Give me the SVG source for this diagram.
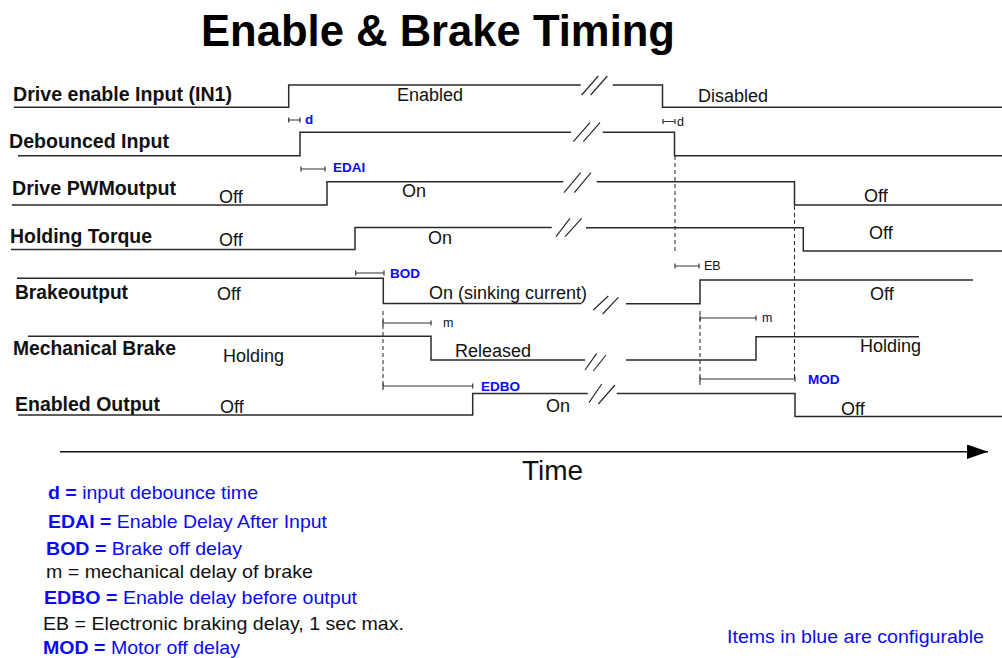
<svg xmlns="http://www.w3.org/2000/svg" width="1002" height="658" viewBox="0 0 1002 658">
<style>
.sig{fill:none;stroke:#2a2a2a;stroke-width:1.5;stroke-linejoin:miter}
.brk{fill:none;stroke:#2a2a2a;stroke-width:1.2}
.dim{fill:none;stroke:#333;stroke-width:1.2}
.dash{fill:none;stroke:#333;stroke-width:1.1;stroke-dasharray:4 3}
.lbl{font-family:"Liberation Sans",Arial,sans-serif;font-weight:bold;font-size:20.5px;fill:#111}
.st{font-family:"Liberation Sans",Arial,sans-serif;font-size:18px;fill:#111}
.cfg{font-family:"Liberation Sans",Arial,sans-serif;font-weight:bold;font-size:13.5px;fill:#0a0af5}
.sm{font-family:"Liberation Sans",Arial,sans-serif;font-size:12.5px;fill:#111}
.leg{font-family:"Liberation Sans",Arial,sans-serif;font-size:18.5px;fill:#0a0af5}
.legk{font-family:"Liberation Sans",Arial,sans-serif;font-size:18.5px;fill:#111}
.b{font-weight:bold}
</style>
<defs>
<marker id="arr" markerWidth="22" markerHeight="16" refX="21" refY="7.2" orient="auto" markerUnits="userSpaceOnUse">
<path d="M0,0 L21,7.2 L0,14.4 Z" fill="#000"/>
</marker>
</defs>
<rect width="1002" height="658" fill="#fff"/>
<text x="201" y="46" font-family="Liberation Sans,Arial,sans-serif" font-weight="bold" font-size="45" fill="#000" textLength="474" lengthAdjust="spacingAndGlyphs">Enable &amp; Brake Timing</text>

<g id="drive-enable-input">
<text class="lbl" x="13" y="101" textLength="219" lengthAdjust="spacingAndGlyphs">Drive enable Input (IN1)</text>
<path class="sig" d="M14,107.3 H288.7 V85 H580.7 M612.7,85 H662.5 V107.3 H1002"/>
<path class="brk" d="M581.7,95 L598.3,76 M590.7,95 L607.3,76"/>
<text class="st" x="397" y="101" font-size="16.5">Enabled</text>
<text class="st" x="698" y="102" font-size="16.5">Disabled</text>
</g>

<g id="debounced-input">
<text class="lbl" x="9" y="148" textLength="160" lengthAdjust="spacingAndGlyphs">Debounced Input</text>
<path class="sig" d="M18,155.7 H300 V132.3 H571 M602.7,132.3 H674.5 V155.7 H1002"/>
<path class="brk" d="M573.3,141.7 L590,122.7 M583.3,141.7 L600,122.7"/>
</g>

<g id="drive-pwm-output">
<text class="lbl" x="12" y="195" textLength="164" lengthAdjust="spacingAndGlyphs">Drive PWMoutput</text>
<path class="sig" d="M12,205 H327 V181.7 H563.3 M596.7,181.7 H794.5 V205 H1002"/>
<path class="brk" d="M564,192.7 L580.7,172.7 M574.3,192.7 L591,172.7"/>
<text class="st" x="219" y="203">Off</text>
<text class="st" x="402" y="196.5" font-size="16">On</text>
<text class="st" x="864" y="201.5" font-size="16.5">Off</text>
</g>

<g id="holding-torque">
<text class="lbl" x="10" y="243" textLength="142" lengthAdjust="spacingAndGlyphs">Holding Torque</text>
<path class="sig" d="M11,249.5 H355 V227.5 H551.7 M586,227.8 H803.3 V251 H1002"/>
<path class="brk" d="M556,236.7 L570,218.3 M565,236.7 L581.7,218.3"/>
<text class="st" x="219" y="245.5">Off</text>
<text class="st" x="428" y="244" font-size="16.5">On</text>
<text class="st" x="869" y="239" font-size="16.5">Off</text>
</g>

<g id="brake-output">
<text class="lbl" x="15" y="299" textLength="113" lengthAdjust="spacingAndGlyphs">Brakeoutput</text>
<path class="sig" d="M17,278.3 H383.3 V303.5 H581.7 M626,303.8 H700 V280 H973"/>
<path class="brk" d="M593.3,310 L608.3,296 M602.7,314 L618.3,297.3"/>
<text class="st" x="217" y="300">Off</text>
<text class="st" x="429" y="299" font-size="19.5">On (sinking current)</text>
<text class="st" x="870" y="300">Off</text>
</g>

<g id="mechanical-brake">
<text class="lbl" x="13" y="355" textLength="163" lengthAdjust="spacingAndGlyphs">Mechanical Brake</text>
<path class="sig" d="M28,336.3 H431 V360 H585 M626,360 H756 V336.7 H919"/>
<path class="brk" d="M585,370 L596.7,353.3 M593.3,371 L606,355"/>
<text class="st" x="223" y="361.5" font-size="19">Holding</text>
<text class="st" x="455" y="356.5" font-size="19">Released</text>
<text class="st" x="860" y="351.5" font-size="17">Holding</text>
</g>

<g id="enabled-output">
<text class="lbl" x="15" y="411" textLength="145" lengthAdjust="spacingAndGlyphs">Enabled Output</text>
<path class="sig" d="M18,415 H472.7 V393.5 H587.7 M616.7,393.5 H795 V416.5 H1002"/>
<path class="brk" d="M589,402.7 L601.7,384 M598.3,404 L615,385"/>
<text class="st" x="220" y="413">Off</text>
<text class="st" x="546" y="411.5" font-size="16.3">On</text>
<text class="st" x="841" y="415">Off</text>
</g>

<g id="connectors">
<path class="dash" d="M675,156 V252"/>
<path class="dash" d="M794.5,206 V381"/>
<path class="dash" d="M383,311 V390"/>
<path class="dash" d="M700,311 V387"/>
<path class="dim" d="M288.7,117.5 V122.5 M288.7,120 H300 M300,117.5 V122.5"/>
<path class="dim" d="M663,119 V124 M663,121.5 H675 M675,119 V124"/>
<path class="dim" d="M301,166.5 V171.5 M301,169 H325 M325,166.5 V171.5"/>
<path class="dim" d="M355.7,270.5 V275.5 M355.7,273 H384 M384,270.5 V275.5"/>
<path class="dim" d="M675,263.5 V268.5 M675,266 H699 M699,263.5 V268.5"/>
<path class="dim" d="M383,320.5 V325.5 M383,323 H431 M431,320.5 V325.5"/>
<path class="dim" d="M700,315.5 V320.5 M700,318 H756 M756,315.5 V320.5"/>
<path class="dim" d="M383,383.5 V388.5 M383,386 H472.7 M472.7,383.5 V388.5"/>
<path class="dim" d="M700,376.5 V381.5 M700,379 H795 M795,376.5 V381.5"/>
<text class="cfg" x="305" y="124" font-size="12.5">d</text>
<text class="sm" x="677" y="126">d</text>
<text class="cfg" x="333" y="171.5">EDAI</text>
<text class="cfg" x="390" y="277.5">BOD</text>
<text class="sm" x="704" y="270" font-size="13.5">EB</text>
<text class="sm" x="443" y="326.5">m</text>
<text class="sm" x="762" y="322">m</text>
<text class="cfg" x="481" y="390.5" font-size="14">EDBO</text>
<text class="cfg" x="808" y="384" font-size="14">MOD</text>
<path d="M60,451.7 H988" stroke="#111" stroke-width="1.5" fill="none" marker-end="url(#arr)"/>
<text x="522" y="480" font-family="Liberation Sans,Arial,sans-serif" font-size="28" fill="#111">Time</text>
</g>

<g id="legend">
<text class="leg" x="48" y="499" textLength="210" lengthAdjust="spacingAndGlyphs"><tspan class="b">d =</tspan> input debounce time</text>
<text class="leg" x="48" y="528" textLength="279" lengthAdjust="spacingAndGlyphs"><tspan class="b">EDAI =</tspan> Enable Delay After Input</text>
<text class="leg" x="46" y="555" textLength="196" lengthAdjust="spacingAndGlyphs"><tspan class="b">BOD =</tspan> Brake off delay</text>
<text class="legk" x="46" y="577.5" textLength="267" lengthAdjust="spacingAndGlyphs">m = mechanical delay of brake</text>
<text class="leg" x="44" y="604" textLength="313" lengthAdjust="spacingAndGlyphs"><tspan class="b">EDBO =</tspan> Enable delay before output</text>
<text class="legk" x="43" y="630" textLength="361" lengthAdjust="spacingAndGlyphs">EB = Electronic braking delay, 1 sec max.</text>
<text class="leg" x="43" y="654" textLength="197" lengthAdjust="spacingAndGlyphs"><tspan class="b">MOD =</tspan> Motor off delay</text>
<text class="leg" x="727" y="643" textLength="257" lengthAdjust="spacingAndGlyphs">Items in blue are configurable</text>
</g>
</svg>
